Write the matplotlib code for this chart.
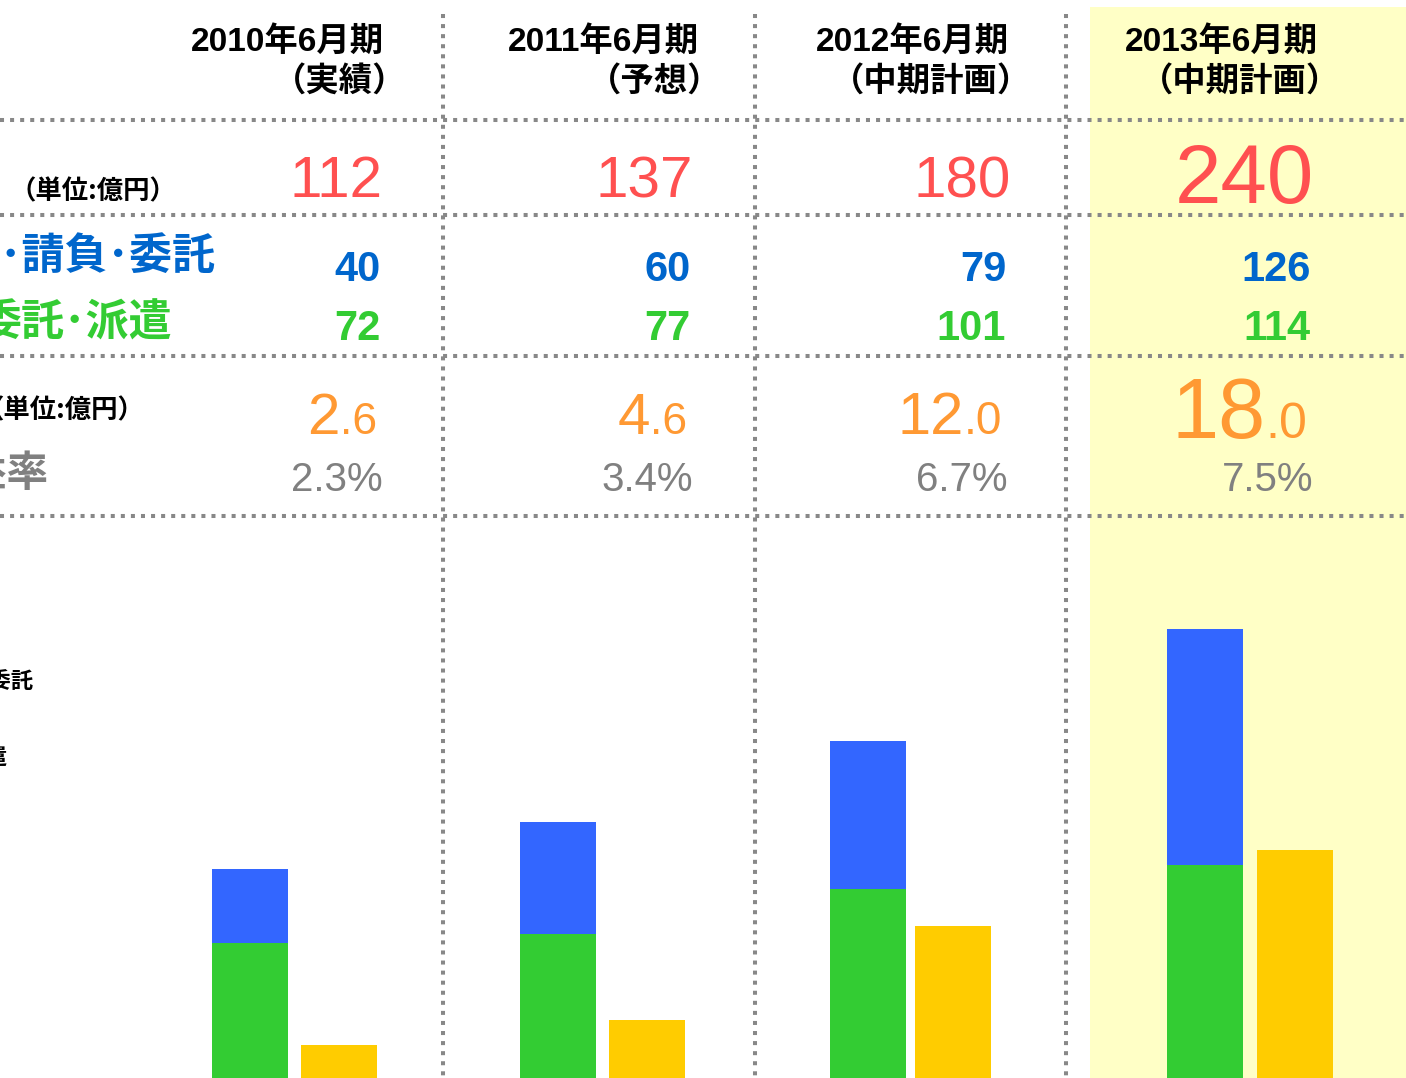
import matplotlib.pyplot as plt
from matplotlib.patches import Rectangle

# データ（単位:億円）
periods = ['2010年6月期', '2011年6月期', '2012年6月期', '2013年6月期']
period_notes = ['（実績）', '（予想）', '（中期計画）', '（中期計画）']
sales = [112, 137, 180, 240]
sales_outsourcing = [40, 60, 79, 126]   # 請負・委託
sales_dispatch = [72, 77, 101, 114]     # 委託・派遣
op_profit = [2.6, 4.6, 12.0, 18.0]
op_margin = [2.3, 3.4, 6.7, 7.5]

W, H = 1406, 1078
NUM_FONT = ['Liberation Sans', 'Noto Sans CJK JP']
JP_FONT = ['Noto Sans CJK JP', 'DejaVu Sans']

RED = '#FF5050'
BLUE_TXT = '#0066CC'
GREEN_TXT = '#33CC33'
ORANGE = '#FF9933'
GRAY = '#808080'
LINE = '#888888'

# レイアウト（ピクセル）
col_right = [381, 691, 1006, 1311]
head_right = [384, 699, 1009, 1318]
sales_right = [383, 693, 1011, 1314]
sales_size = [42, 42, 42, 60]
profit_big = [42, 42, 43, 61]
profit_small = [32, 32, 33, 36]
bar_x = [250, 558, 868, 1205]
bar2_x = [339, 647, 953, 1295]
bar_w = 76

fig = plt.figure(figsize=(W / 100, H / 100), dpi=100)
bg = fig.add_axes([0, 0, 1, 1])
bg.set_xlim(0, W)
bg.set_ylim(H, 0)
bg.axis('off')

# 2013年の強調背景
bg.add_patch(Rectangle((1090, 7), W - 1090, H - 7, color='#FFFFC6', zorder=0, lw=0))

# 点線
dots = dict(color=LINE, lw=2.9, linestyle=(0, (1, 1.5)), dash_capstyle='butt', zorder=1)
for x in [443, 755, 1066]:
    bg.plot([x, x], [14, H], **dots)
for y in [120, 215, 356, 516]:
    bg.plot([0, W], [y, y], **dots)

# 見出し
for i in range(4):
    bg.text(head_right[i], 42, periods[i], ha='right', va='center', fontsize=24,
            fontweight='bold', family=NUM_FONT, color='black')
    bg.text(head_right[i] + 22, 81, period_notes[i], ha='right', va='center', fontsize=24,
            fontweight='bold', family=JP_FONT, color='black')

# 左側の項目名（はみ出し部分）
bg.text(176, 192, '（単位:億円）', ha='right', va='center', fontsize=19,
        fontweight='bold', family=JP_FONT)
bg.text(215, 256, '受託･請負･委託', ha='right', va='center', fontsize=31,
        fontweight='bold', family=JP_FONT, color=BLUE_TXT)
bg.text(172, 323, '委託･派遣', ha='right', va='center', fontsize=31,
        fontweight='bold', family=JP_FONT, color=GREEN_TXT)
bg.text(144, 411, '（単位:億円）', ha='right', va='center', fontsize=19,
        fontweight='bold', family=JP_FONT)
bg.text(49, 474, '営業利益率', ha='right', va='center', fontsize=30,
        fontweight='bold', family=JP_FONT, color=GRAY)
bg.text(33, 682, '請負･委託', ha='right', va='center', fontsize=16,
        fontweight='bold', family=JP_FONT)
bg.text(8, 758, '委託･派遣', ha='right', va='center', fontsize=16,
        fontweight='bold', family=JP_FONT)

renderer = fig.canvas.get_renderer()

for i in range(4):
    r = col_right[i]
    bg.text(sales_right[i], 197 if i < 3 else 203, str(sales[i]), ha='right', va='baseline',
            fontsize=sales_size[i], family=NUM_FONT, color=RED)
    bg.text(r, 281, str(sales_outsourcing[i]), ha='right', va='baseline',
            fontsize=30, fontweight='bold', family=NUM_FONT, color=BLUE_TXT)
    bg.text(r, 340, str(sales_dispatch[i]), ha='right', va='baseline',
            fontsize=30, fontweight='bold', family=NUM_FONT, color=GREEN_TXT)

    # 営業利益: 整数部を大きく、小数部を小さく
    big, small = f'{op_profit[i]:.1f}'.split('.')
    t = bg.text(r - 4, 434 if i < 3 else 438, '.' + small, ha='right', va='baseline',
                fontsize=profit_small[i], family=NUM_FONT, color=ORANGE)
    bb = t.get_window_extent(renderer=renderer)
    x0 = bg.transData.inverted().transform((bb.x0, bb.y0))[0]
    bg.text(x0, 434 if i < 3 else 438, big, ha='right', va='baseline',
            fontsize=profit_big[i], family=NUM_FONT, color=ORANGE)

    bg.text(r + 2, 491, f'{op_margin[i]:.1f}%', ha='right', va='baseline',
            fontsize=29, family=NUM_FONT, color=GRAY)

# 棒グラフ
top_px = H - 520
ax = fig.add_axes([0, 0, 1, top_px / H])
ax.patch.set_alpha(0)
ax.set_xlim(0, W)
ax.set_ylim(0, top_px / 1.87)
ax.axis('off')
ax.bar(bar_x, sales_dispatch, width=bar_w, color='#33CC33', zorder=3)
ax.bar(bar_x, sales_outsourcing, width=bar_w, bottom=sales_dispatch, color='#3366FF', zorder=3)

ax2 = ax.twinx()
ax2.set_xlim(0, W)
ax2.set_ylim(0, top_px / 12.68)
ax2.axis('off')
ax2.bar(bar2_x, op_profit, width=bar_w, color='#FFCC00', zorder=3)

fig.savefig('out.png', dpi=100)
